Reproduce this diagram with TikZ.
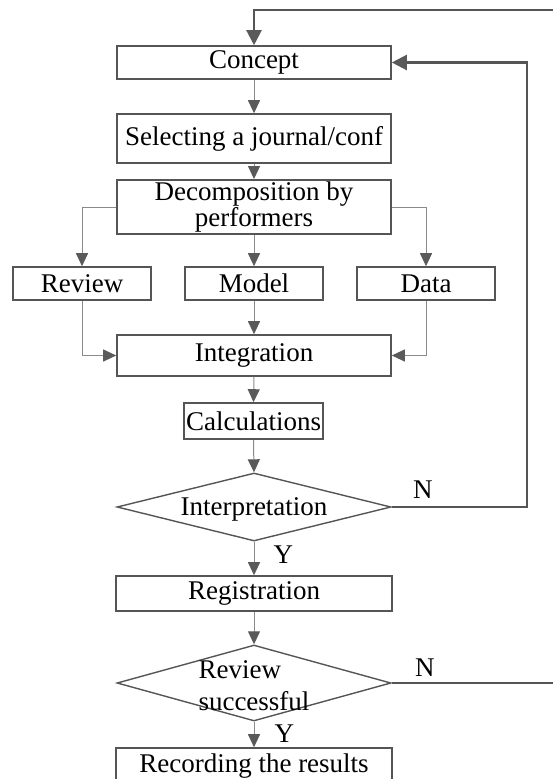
\documentclass[tikz,border=0pt]{standalone}
\usepackage{fontspec}
\setmainfont{Liberation Serif}
\usetikzlibrary{arrows.meta,shapes.geometric,calc}
\definecolor{boxgray}{HTML}{555555}
\definecolor{linegray}{HTML}{8A8A8A}
\definecolor{tipgray}{HTML}{5A5A5A}
\begin{document}
\begin{tikzpicture}[
    x=1pt, y=-1pt,
    every node/.style={font=\fontsize{27}{21}\selectfont},
    box/.style={rectangle, draw=boxgray, line width=1.6pt, inner sep=2pt, minimum height=#1},
    box/.default=33pt,
    decision/.style={diamond, draw=boxgray, line width=1.4pt, inner sep=0pt, aspect=4, minimum width=274pt, minimum height=#1},
    link/.style={draw=linegray, line width=1pt, -{Triangle[length=13pt,width=12pt,color=tipgray]}},
    back/.style={draw=boxgray, line width=2.2pt, -{Triangle[length=15pt,width=15pt,color=tipgray]}},
    yn/.style={inner sep=0pt}
  ]

  \useasboundingbox (0,0) rectangle (552,779);

  % Boxes
  \node[box, minimum width=274pt] (concept) at (254,62.5) {Concept};
  \node[box=49pt, minimum width=274pt] (select) at (254,138.5) {Selecting a journal/conf};
  \node[box=48pt, minimum width=274pt, align=center] (decomp) at (254,207) {\raisebox{-3pt}{Decomposition by}\\performers};
  \node[box, minimum width=138pt] (review) at (82,283.5) {Review};
  \node[box, minimum width=138pt] (model) at (254,283.5) {Model};
  \node[box, minimum width=138pt] (data) at (426,283.5) {Data};
  \node[box=41pt, minimum width=274pt] (integ) at (254,355.5) {Integration};
  \node[box=36pt, minimum width=139pt] (calc) at (253.5,421) {Calculations};
  \node[decision=68pt] (interp) at (254,507) {\smash{\raisebox{-8pt}{Interpretation}}};
  \node[box=35pt, minimum width=276pt] (reg) at (254,593.5) {Registration};
  \node[decision=76pt] (revok) at (254,683) {\smash{\raisebox{-12pt}{\begin{tabular}{@{}l@{}}Review\\[6pt]successful\end{tabular}}}};
  \node[box=36pt, minimum width=276pt] (record) at (254,766) {Recording the results};

  % Main flow
  \draw[link] (concept.south) -- (select.north);
  \draw[link] (select.south) -- (decomp.north);
  \draw[link] (decomp.west) -| (review.north);
  \draw[link] (decomp.south) -- (model.north);
  \draw[link] (decomp.east) -| (data.north);
  \draw[link] (review.south) |- (integ.west);
  \draw[link] (model.south) -- (integ.north);
  \draw[link] (data.south) |- (integ.east);
  \draw[link] (integ.south) -- (calc.north);
  \draw[link] (calc.south) -- (interp.north);
  \draw[link] (interp.south) -- node[right, yn, xshift=19pt, pos=0.4] (y1) {Y} (reg.north);
  \draw[link] (reg.south) -- (revok.north);
  \draw[link] (revok.south) -- node[right, yn, xshift=20pt, pos=0.45] (y2) {Y} (record.north);

  % Feedback loops
  \coordinate (rt1) at (527,507);
  \coordinate (rt2) at (558,683);
  \coordinate (top) at (254,10);
  \draw[back] (interp.east) -- node[above, yn, yshift=7pt, pos=0.23] (n1) {N} (rt1) |- (concept.east);
  \draw[back] (revok.east) -- node[above, yn, yshift=5pt, pos=0.2] (n2) {N} (rt2) |- (top) -- (concept.north);

\end{tikzpicture}
\end{document}
